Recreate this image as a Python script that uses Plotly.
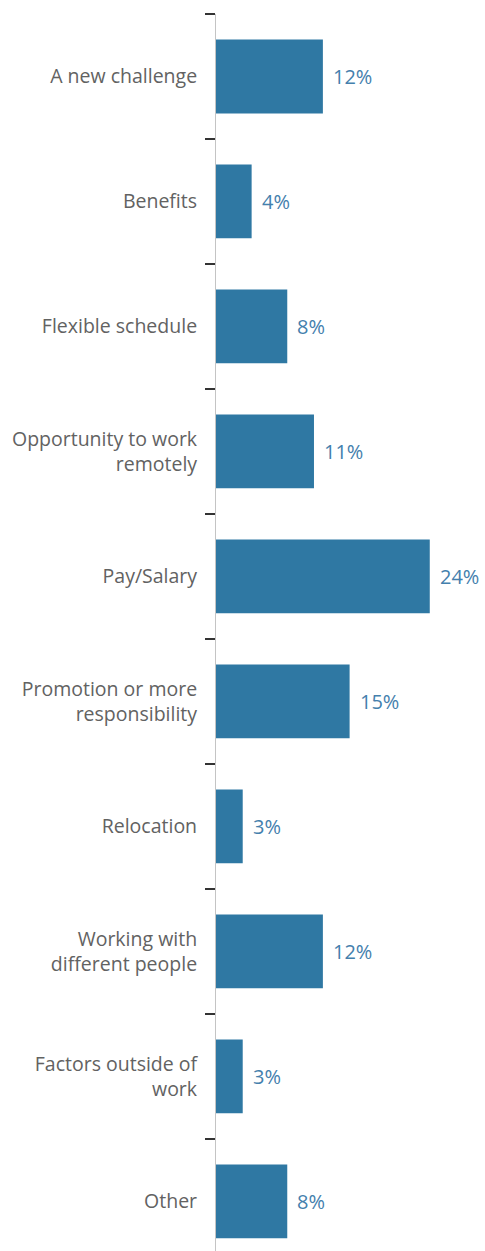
import plotly.graph_objects as go

categories = [
    "A new challenge",
    "Benefits",
    "Flexible schedule",
    "Opportunity to work<br>remotely",
    "Pay/Salary",
    "Promotion or more<br>responsibility",
    "Relocation",
    "Working with<br>different people",
    "Factors outside of<br>work",
    "Other",
]
values = [12, 4, 8, 11, 24, 15, 3, 12, 3, 8]
value_labels = [f"{v}%" for v in values]

BAR_COLOR = "#2f78a3"
LABEL_COLOR = "#4480ad"
TEXT_COLOR = "#626262"
FONT = "Open Sans"

fig = go.Figure(
    go.Bar(
        x=values,
        y=categories,
        orientation="h",
        marker=dict(color=BAR_COLOR, line=dict(width=0)),
        hoverinfo="skip",
    )
)

for v, c, t in zip(values, categories, value_labels):
    fig.add_annotation(
        x=v, y=c, text=t, showarrow=False,
        xanchor="left", yanchor="middle", xshift=8,
        font=dict(family=FONT, size=20, color=LABEL_COLOR),
    )

n = len(categories)
fig.update_layout(
    width=485,
    height=1251,
    margin=dict(l=216, r=0, t=14, b=0),
    paper_bgcolor="white",
    plot_bgcolor="white",
    bargap=0.41,
    showlegend=False,
    font=dict(family=FONT, size=19.5, color=TEXT_COLOR),
)
fig.update_xaxes(
    range=[0, 30.2],
    visible=False,
)
fig.update_yaxes(
    type="category",
    categoryorder="array",
    categoryarray=categories,
    range=[n - 0.604, -0.5],
    showline=True,
    linecolor="#c4c4c4",
    linewidth=1,
    ticks="outside",
    tickson="boundaries",
    ticklen=10,
    tickwidth=2,
    tickcolor="#333333",
    ticklabelstandoff=14,
    showgrid=False,
    zeroline=False,
    tickfont=dict(family=FONT, size=19.5, color=TEXT_COLOR),
)

fig.write_html("out.html")
